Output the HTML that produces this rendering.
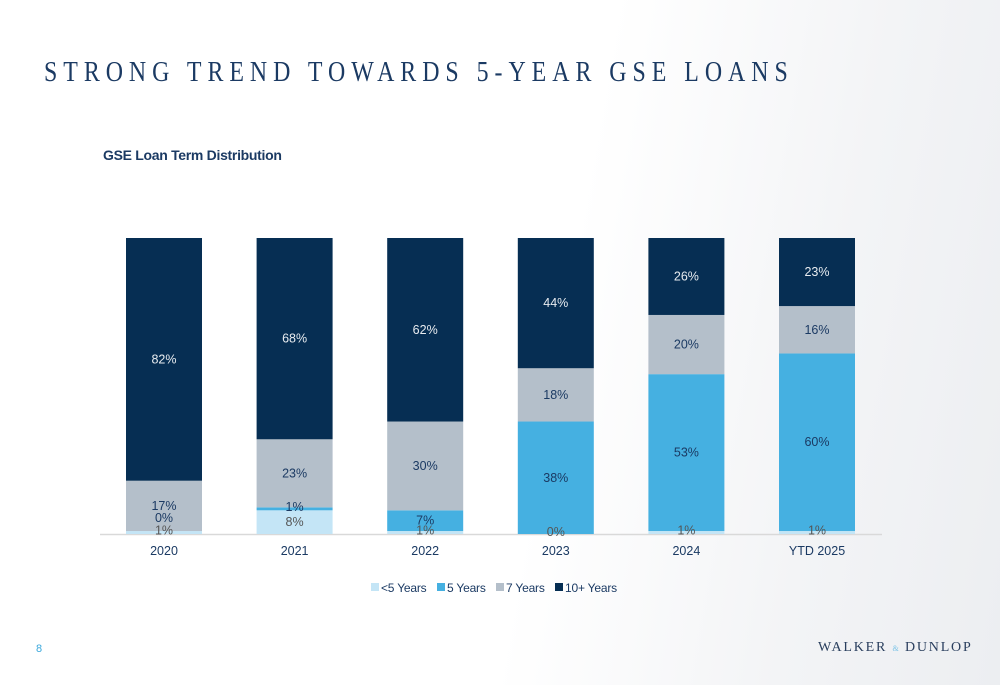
<!DOCTYPE html>
<html><head><meta charset="utf-8"><style>
body{margin:0;width:1000px;height:685px;overflow:hidden;font-family:"Liberation Sans",sans-serif;background:linear-gradient(100deg,#fff 0%,#fff 55%,#f3f4f6 80%,#eceef1 100%);position:relative}
.title{position:absolute;left:44px;top:57px;font-family:"Liberation Serif",serif;font-size:28px;letter-spacing:7px;color:#1b3a63;white-space:nowrap;transform:scaleX(0.853);transform-origin:left top}
.sub{position:absolute;left:103px;top:147px;font-size:14px;font-weight:bold;color:#1b3a63;letter-spacing:-0.3px}
.pg{position:absolute;left:36px;top:643px;font-size:11px;color:#3aa8dc}
.logo{position:absolute;left:818px;top:640px;font-family:"Liberation Serif",serif;font-size:14px;letter-spacing:1.8px;color:#2a3f5e;white-space:nowrap}
.logo span{color:#7cc4e8;font-size:8px;letter-spacing:1px}
svg{position:absolute;left:0;top:0}
</style></head><body>
<div class="title">STRONG TREND TOWARDS 5-YEAR GSE LOANS</div>
<div class="sub">GSE Loan Term Distribution</div>
<svg id="c" width="1000" height="685"></svg>
<div class="pg">8</div>
<div class="logo">WALKER <span>&amp;</span> DUNLOP</div>
<script>
const categories=["2020","2021","2022","2023","2024","YTD 2025"];
const seriesNames=["<5 Years","5 Years","7 Years","10+ Years"];
const lt5=[1,8,1,0,1,1];
const y5=[0,1,7,38,53,60];
const y7=[17,23,30,18,20,16];
const y10=[82,68,62,44,26,23];
const series=[lt5,y5,y7,y10];
const colors=["#c4e5f6","#45b0e1","#b4bfca","#062e53"];
const textCols=["#555","#1b3a63","#1b3a63","#e8ecf0"];
const svg=document.getElementById('c');const NS="http://www.w3.org/2000/svg";
const baseY=534,topY=238,x0=100,step=130.6,bw=76;
function xc(i){return 164+i*step;}
function el(t,a){const e=document.createElementNS(NS,t);for(const k in a)e.setAttribute(k,a[k]);svg.appendChild(e);return e;}
const ax=el('line',{x1:x0,x2:882,y1:baseY+0.5,y2:baseY+0.5,stroke:'#d9d9d9','stroke-width':1.5});


const labels=[];
categories.forEach((c,i)=>{
  const tot=series.reduce((s,a)=>s+a[i],0);
  const sc=(baseY-topY)/tot;
  let y=baseY;
  series.forEach((a,k)=>{
    const h=a[i]*sc;
    const r=el('rect',{x:xc(i)-bw/2,y:y-h,width:bw,height:h,fill:colors[k]});
    
    
    let ly=y-h/2+4;
    if(h<6)ly=y-h/2+2;
    if(k===1&&a[i]===0)ly=y-9;
    labels.push([xc(i),ly,k,a[i]]);
    y-=h;
  });
  const l=el('text',{x:xc(i),y:555,'text-anchor':'middle','font-size':12.5,fill:'#1b3a63'});
  l.textContent=c;
  
  
});
labels.forEach(([x,ly,k,v])=>{
  const t=el('text',{x:x,y:ly,'text-anchor':'middle','font-size':12.5,fill:textCols[k]});
  t.textContent=v+'%';
  
  
});
const lx=[371,437,496,555];
seriesNames.forEach((n,k)=>{
  const r=el('rect',{x:lx[k],y:583,width:8,height:8,fill:colors[k]});
  
  
  const t=el('text',{x:lx[k]+10,y:592,'font-size':12,fill:'#1b3a63','letter-spacing':'-0.2'});
  t.textContent=n;
  
  
});
</script>
</body></html>
